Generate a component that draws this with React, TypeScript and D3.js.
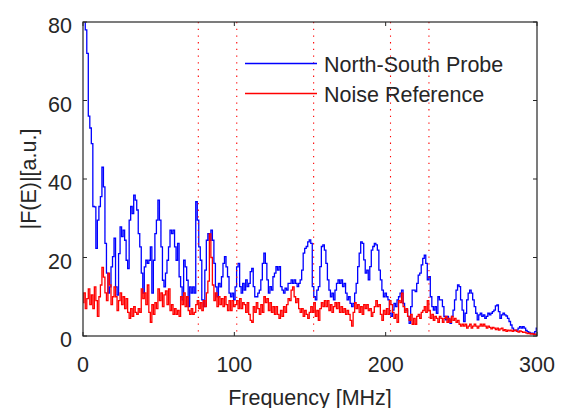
import React from 'react';
import * as d3 from 'd3';

// ---- data ----
const FREQ_START = 0; // MHz
const FREQ_STEP = 1; // MHz between samples

const northSouthProbe = [
  95, 82, 78, 72, 56, 53, 49, 33, 32.9, 22.3,
  29.5, 33, 35.5, 43, 38, 23.6, 16, 10.9, 12.5, 17.6,
  20.2, 24.9, 12.5, 10.4, 21, 27.8, 25.3, 27, 24.4, 19.3,
  17.2, 29.5, 33, 31.2, 35.9, 34.6, 32.1, 26.1, 22.7, 16,
  10.9, 17.6, 19.3, 18.5, 19.3, 22.7, 10.9, 19.3, 26.1, 29.5,
  34.6, 29.5, 22.7, 14.2, 12.5, 16, 19.3, 22.7, 27, 26.1,
  27, 22.7, 19.3, 23.6, 15.1, 12.5, 9.2, 19.3, 17.6, 14.2,
  7.5, 12.5, 10.9, 12.5, 10.9, 34.2, 29.5, 22.7, 19.3, 9.2,
  7.5, 16.8, 24.4, 26.1, 24.4, 27, 24.4, 18.5, 12.5, 10,
  13.4, 12.5, 15.1, 18.5, 20.2, 17.6, 15.1, 10.9, 10, 10.9,
  9.2, 12.5, 17.6, 18.5, 12.6, 10.9, 13.4, 11.7, 14.3, 12.6,
  13.4, 16.4, 17.2, 12.6, 10, 10, 10.9, 11.7, 14.3, 18.5,
  21.1, 18.5, 14.3, 10.9, 12.6, 11.7, 15.1, 16, 17.7, 16.8,
  17.7, 12.6, 11.7, 10.9, 12.2, 11.7, 13.4, 13.4, 14.3, 13.4,
  14.3, 13.4, 12.6, 13.4, 14.3, 16.8, 21.1, 22.3, 22.8, 24,
  24.5, 23.6, 12.6, 10, 9.2, 11.7, 12.6, 17.7, 22.8, 23.2,
  21.9, 18.5, 14.3, 11.7, 10, 10.9, 9.2, 11.7, 13.4, 14.3,
  13.4, 14.3, 12.6, 13.4, 10.9, 9.2, 10, 8.3, 7.5, 8.3,
  10.9, 13.4, 17.7, 21.1, 24, 23.6, 19.4, 16, 16.8, 14.3,
  17.7, 21.9, 22.8, 23.6, 23.2, 21.9, 16.8, 14.3, 11.7, 10,
  10.9, 10, 9.2, 5.8, 5, 6.6, 8.3, 7.5, 9.2, 10,
  10.9, 11.7, 8.3, 6.6, 6.6, 5, 3.2, 7.5, 11.7, 11.7,
  11.3, 13.4, 15.5, 16, 18.1, 19.8, 20.6, 18.5, 14.3, 15.1,
  10, 7.5, 6.6, 7.5, 5.8, 10, 9.2, 9.2, 7.5, 5,
  4.1, 5, 4.1, 3.2, 5, 6.6, 9.2, 11.7, 13, 12.6,
  9.2, 6.6, 3.7, 5.8, 9.2, 10.9, 11.7, 10.9, 9.2, 7.5,
  5.8, 4.1, 5.4, 5.8, 5, 5.4, 4.5, 5, 5.8, 5.4,
  5.8, 6.2, 6.6, 7.7, 7.9, 6.2, 4.5, 5.4, 5.8, 5.4,
  5.1, 4.5, 3.7, 2.8, 2, 1.5, 1.4, 1.5, 2, 2.4,
  2, 2.4, 2, 1.4, 1.1, 0.9, 0.7, 0.7, 0.5, 1.1,
  2,
];

const noiseReference = [
  8.5, 11, 7, 9.5, 12, 8, 10.5, 7, 12.5, 9,
  5, 10, 13, 17.5, 15, 11, 9, 16, 13, 8,
  10, 12.5, 10, 6.5, 9, 11, 8, 10, 7, 9.5,
  6, 4.5, 7, 5, 7.5, 6, 5.5, 7, 6, 12,
  9.5, 11, 8, 13, 6, 3.5, 8, 5.5, 8.5, 7,
  12, 9, 11, 7.5, 10.5, 11.5, 8, 12, 6.5, 8,
  5.5, 7, 5.5, 6.5, 5, 10, 8, 11, 7.5, 10,
  6.5, 5.5, 7, 5.5, 6, 8, 9, 7, 8.5, 6.5,
  9, 7.5, 11, 14, 26, 20, 13, 9, 11, 7.5,
  10, 8, 9.5, 7.5, 10, 8, 6.5, 9, 6.5, 9,
  7.5, 8, 9, 7, 9.5, 7, 8.5, 8, 6, 8.5,
  5.5, 4, 3.5, 7.5, 6, 8.5, 7, 5.5, 8, 6,
  10, 8.5, 9.5, 6.5, 8.5, 6, 7.5, 5.5, 7.5, 5.5,
  4.5, 6.5, 5, 7.5, 6, 8, 9.5, 9, 11.7, 12.5,
  10, 8.5, 9.5, 7, 6, 7, 5, 6.5, 5.5, 4.5,
  6, 7.5, 6, 8.5, 5, 6.5, 4, 7, 8.5, 7.5,
  9, 7.5, 9, 6.5, 8, 6, 7.5, 8.5, 7, 8.5,
  6, 7.5, 6, 7, 5.5, 6.5, 5.5, 4, 2.5, 6,
  8.5, 7, 8, 6, 7.5, 5.5, 8, 7, 8, 6.5,
  7, 5, 6, 7.5, 9, 7.5, 8, 5.5, 4, 6.5,
  5.5, 7, 5.5, 9, 8, 6, 4.5, 5.5, 3.5, 9,
  8.5, 10.9, 7.5, 6, 7, 5, 4, 5.5, 3, 4.5,
  3, 5, 5.5, 4.5, 6, 6.5, 7.5, 6, 9, 6.5,
  4.5, 5.5, 4, 5, 4.5, 3.5, 5, 4.5, 3.5, 4.5,
  5, 3.5, 4.5, 3.5, 5, 4, 4.5, 3.5, 4, 3,
  2.5, 3, 2.5, 3, 2, 2.5, 3, 2, 2.5, 3,
  2.5, 2, 2.5, 3, 2.5, 3, 2.5, 2, 2.5, 2.2,
  1.8, 2.2, 2, 1.6, 2, 1.5, 1.8, 2, 1.4, 1.6,
  1.2, 1.5, 1.3, 1.5, 1.2, 1.4, 1.5, 1.2, 1, 1.3,
  1.1, 0.9, 1, 0.8, 0.6, 0.7, 0.5, 0.6, 0.4, 0.5,
  0.3,
];

const markerFreqs = [76.2, 101.6, 152.4, 203.2, 228.6];
const xTicks = [0, 100, 200, 300];
const yTicks = [0, 20, 40, 60, 80];
const seriesNames = ['North-South Probe', 'Noise Reference'];
const seriesColors = ['#0000ff', '#ff0000'];
const xLabel = 'Frequency [MHz]';
const yLabel = '|F(E)|[a.u.]';

export default function App() {
  const W = 562;
  const H = 408;
  const left = 83;
  const right = 537;
  const top = 22;
  const bottom = 336;
  const axisColor = '#262626';
  const font = '"Liberation Sans", Arial, Helvetica, sans-serif';
  const fs = 21.5;
  const tickLen = 4;

  const x = d3.scaleLinear().domain([0, 300]).range([left, right]);
  const y = d3.scaleLinear().domain([0, 80]).range([bottom, top]);

  const line = d3
    .line<number>()
    .x((_, i) => x(FREQ_START + i * FREQ_STEP))
    .y((d) => y(d))
    .curve(d3.curveStep);

  const series = [northSouthProbe, noiseReference];

  return (
    <svg
      width={W}
      height={H}
      viewBox={`0 0 ${W} ${H}`}
      style={{ position: 'absolute', left: 0, top: 0, background: '#fff' }}
    >
      <defs>
        <clipPath id="plotClip">
          <rect x={left} y={top} width={right - left} height={bottom - top} />
        </clipPath>
      </defs>
      <rect x={0} y={0} width={W} height={H} fill="#fff" />

      <g clipPath="url(#plotClip)" fill="none" strokeLinejoin="miter">
        {series.map((vals, k) => (
          <path key={k} d={line(vals) || ''} stroke={seriesColors[k]} strokeWidth={1.3} />
        ))}
        {markerFreqs.map((f, k) => (
          <line
            key={'m' + k}
            x1={x(f)}
            x2={x(f)}
            y1={top}
            y2={bottom}
            stroke="#ff0000"
            strokeWidth={1.1}
            strokeDasharray="1.3 5.4"
          />
        ))}
      </g>

      {/* axes box */}
      <rect
        x={left}
        y={top}
        width={right - left}
        height={bottom - top}
        fill="none"
        stroke={axisColor}
        strokeWidth={1.2}
      />
      {/* ticks (inward, all four sides) */}
      {xTicks.map((t) => (
        <g key={'xt' + t} stroke={axisColor} strokeWidth={1}>
          <line x1={x(t)} x2={x(t)} y1={bottom} y2={bottom - tickLen} />
          <line x1={x(t)} x2={x(t)} y1={top} y2={top + tickLen} />
        </g>
      ))}
      {yTicks.map((t) => (
        <g key={'yt' + t} stroke={axisColor} strokeWidth={1}>
          <line x1={left} x2={left + tickLen} y1={y(t)} y2={y(t)} />
          <line x1={right} x2={right - tickLen} y1={y(t)} y2={y(t)} />
        </g>
      ))}

      {/* tick labels */}
      <g fontFamily={font} fontSize={fs} fill={axisColor}>
        {xTicks.map((t) => (
          <text key={'xl' + t} x={x(t)} y={371.5} textAnchor="middle">
            {t}
          </text>
        ))}
        {yTicks.map((t) => (
          <text key={'yl' + t} x={72} y={y(t) + 11} textAnchor="end">
            {t}
          </text>
        ))}
        <text x={(left + right) / 2} y={404.5} textAnchor="middle">
          {xLabel}
        </text>
        <text
          transform={`translate(36, ${(top + bottom) / 2}) rotate(-90)`}
          textAnchor="middle"
        >
          {yLabel}
        </text>
      </g>

      {/* legend */}
      <g fontFamily={font} fontSize={fs} fill={axisColor}>
        {seriesNames.map((name, k) => (
          <g key={'lg' + k}>
            <line
              x1={245}
              x2={317}
              y1={63.5 + k * 30}
              y2={63.5 + k * 30}
              stroke={seriesColors[k]}
              strokeWidth={1.3}
            />
            <text x={324} y={71.5 + k * 30}>
              {name}
            </text>
          </g>
        ))}
      </g>
    </svg>
  );
}
